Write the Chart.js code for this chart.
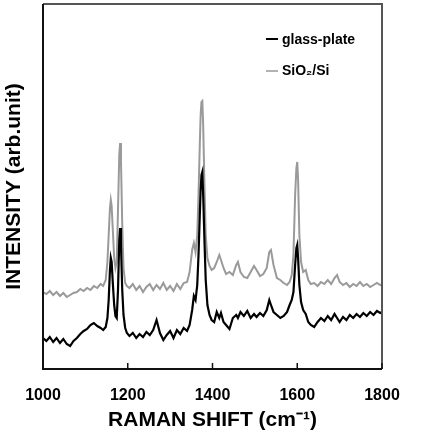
<!DOCTYPE html>
<html><head><meta charset="utf-8">
<script src="https://cdn.jsdelivr.net/npm/chart.js@4/dist/chart.umd.min.js"></script>
<style>html,body{margin:0;padding:0;background:#fff}#wrap{width:429px;height:433px;position:relative}</style>
</head><body><div id="wrap"><canvas id="c" width="429" height="433"></canvas></div>
<script>
const ramanShift=[
1000,1008,1016,1024,1032,1040,1048,1056,1064,1072,
1080,1088,1096,1104,1112,1120,1128,1136,1142,1148,
1152,1155,1158,1160,1162,1165,1168,1171,1174,1177,
1180,1182,1184,1187,1190,1194,1198,1204,1212,1220,
1228,1236,1244,1252,1260,1268,1276,1284,1292,1300,
1308,1316,1324,1332,1340,1346,1352,1356,1360,1364,
1367,1370,1372,1374,1376,1378,1381,1384,1388,1393,
1398,1404,1410,1416,1420,1426,1432,1440,1448,1456,
1460,1466,1474,1482,1490,1498,1504,1512,1520,1528,
1534,1538,1544,1552,1560,1568,1576,1582,1587,1591,
1595,1598,1600,1602,1605,1609,1614,1620,1626,1632,
1640,1648,1656,1664,1672,1680,1688,1694,1700,1708,
1716,1724,1732,1740,1748,1756,1764,1772,1780,1788,
1796,1800];
const glassPlate=[
31,28,32,27,31,26,30,25,23,28,
31,35,38,40,44,46,43,41,39,42,
51,69,99,111,107,84,64,53,51,79,
129,141,124,79,54,41,36,33,36,31,
35,32,37,34,39,49,36,29,34,38,
31,39,35,41,38,44,59,73,69,84,
114,154,179,194,197,174,129,89,64,54,
49,47,57,51,56,47,44,40,51,54,
51,57,53,58,51,55,52,56,53,59,
69,64,57,54,51,53,57,64,69,77,
104,121,124,111,84,67,59,55,47,44,
42,47,51,48,53,49,55,51,47,52,
49,54,51,55,52,56,53,57,54,58,
56,57];
const sio2Si=[
77,75,78,74,77,73,76,72,74,76,
77,80,78,81,79,83,81,85,83,89,
107,134,161,169,163,137,111,101,107,159,
214,226,209,144,101,86,83,81,85,79,
83,77,82,85,79,84,80,86,79,83,
78,85,80,86,87,97,119,126,117,134,
174,224,254,267,268,244,184,134,111,103,
99,101,107,114,109,101,95,97,94,104,
107,97,92,91,97,103,99,93,95,101,
117,119,104,91,89,86,84,87,94,114,
174,201,207,189,134,107,97,99,89,85,
86,83,87,85,89,85,91,94,87,84,
86,82,85,83,87,83,85,82,84,86,
84,85];
const xTickValues=[1000,1200,1400,1600,1800];
const seriesNames=['glass-plate','SiO\u2082/Si'];
const xTitle='RAMAN SHIFT (cm\u207B\u00B9)';
const yTitle='INTENSITY (arb.unit)';

const FONT='"Liberation Sans", Arial, sans-serif';
const toPts=(ys)=>ramanShift.map((x,i)=>({x:x,y:ys[i]}));

const framePlugin={
  id:'frame',
  afterDatasetsDraw(chart){
    const {ctx,chartArea:a,scales}=chart;
    ctx.save();
    ctx.strokeStyle='#555';ctx.lineWidth=2;
    ctx.beginPath();ctx.moveTo(a.left,a.top);ctx.lineTo(a.right,a.top);ctx.lineTo(a.right,a.bottom);ctx.stroke();
    ctx.strokeStyle='#111';ctx.lineWidth=2;
    ctx.beginPath();ctx.moveTo(a.left,a.top);ctx.lineTo(a.left,a.bottom);ctx.lineTo(a.right,a.bottom);ctx.stroke();
    ctx.lineWidth=1.5;
    xTickValues.forEach(v=>{
      const px=scales.x.getPixelForValue(v);
      ctx.beginPath();ctx.moveTo(px,a.bottom);ctx.lineTo(px,a.bottom-6);ctx.stroke();
    });
    const items=[{c:'#000',w:2,t:seriesNames[0],y:39,b:44},{c:'#999',w:1.5,t:seriesNames[1],y:71,b:75}];
    ctx.font='bold 14px '+FONT;ctx.textBaseline='alphabetic';ctx.textAlign='left';
    items.forEach(it=>{
      ctx.strokeStyle=it.c;ctx.lineWidth=it.w;
      ctx.beginPath();ctx.moveTo(266,it.y);ctx.lineTo(278,it.y);ctx.stroke();
      ctx.fillStyle='#000';ctx.fillText(it.t,282,it.b);
    });
    ctx.restore();
  }
};

new Chart(document.getElementById('c'),{
  type:'line',
  data:{datasets:[
    {label:seriesNames[0],data:toPts(glassPlate),borderColor:'#000',borderWidth:2.2,pointRadius:0,tension:0,fill:false},
    {label:seriesNames[1],data:toPts(sio2Si),borderColor:'#9a9a9a',borderWidth:2,pointRadius:0,tension:0,fill:false}
  ]},
  options:{
    responsive:false,animation:false,devicePixelRatio:1,
    layout:{padding:{left:0,top:4,right:47,bottom:0}},
    plugins:{legend:{display:false},tooltip:{enabled:false}},
    scales:{
      x:{type:'linear',min:1000,max:1800,
        afterBuildTicks:(s)=>{s.ticks=xTickValues.map(v=>({value:v}));},
        afterFit:(s)=>{s.height=64;},
        grid:{display:false,drawTicks:false},border:{display:false},
        ticks:{color:'#000',font:{family:FONT,size:16,weight:'bold'},padding:17,maxRotation:0,callback:(v)=>String(v)},
        title:{display:true,text:xTitle,color:'#000',font:{family:FONT,size:21,weight:'bold'},padding:0}
      },
      y:{min:0,max:365,
        afterFit:(s)=>{s.width=43;},
        grid:{display:false,drawTicks:false},border:{display:false},
        ticks:{display:false},
        title:{display:true,text:yTitle,color:'#000',font:{family:FONT,size:21,weight:'bold'},padding:{top:2,bottom:0}}
      }
    }
  },
  plugins:[framePlugin]
});
</script></body></html>
